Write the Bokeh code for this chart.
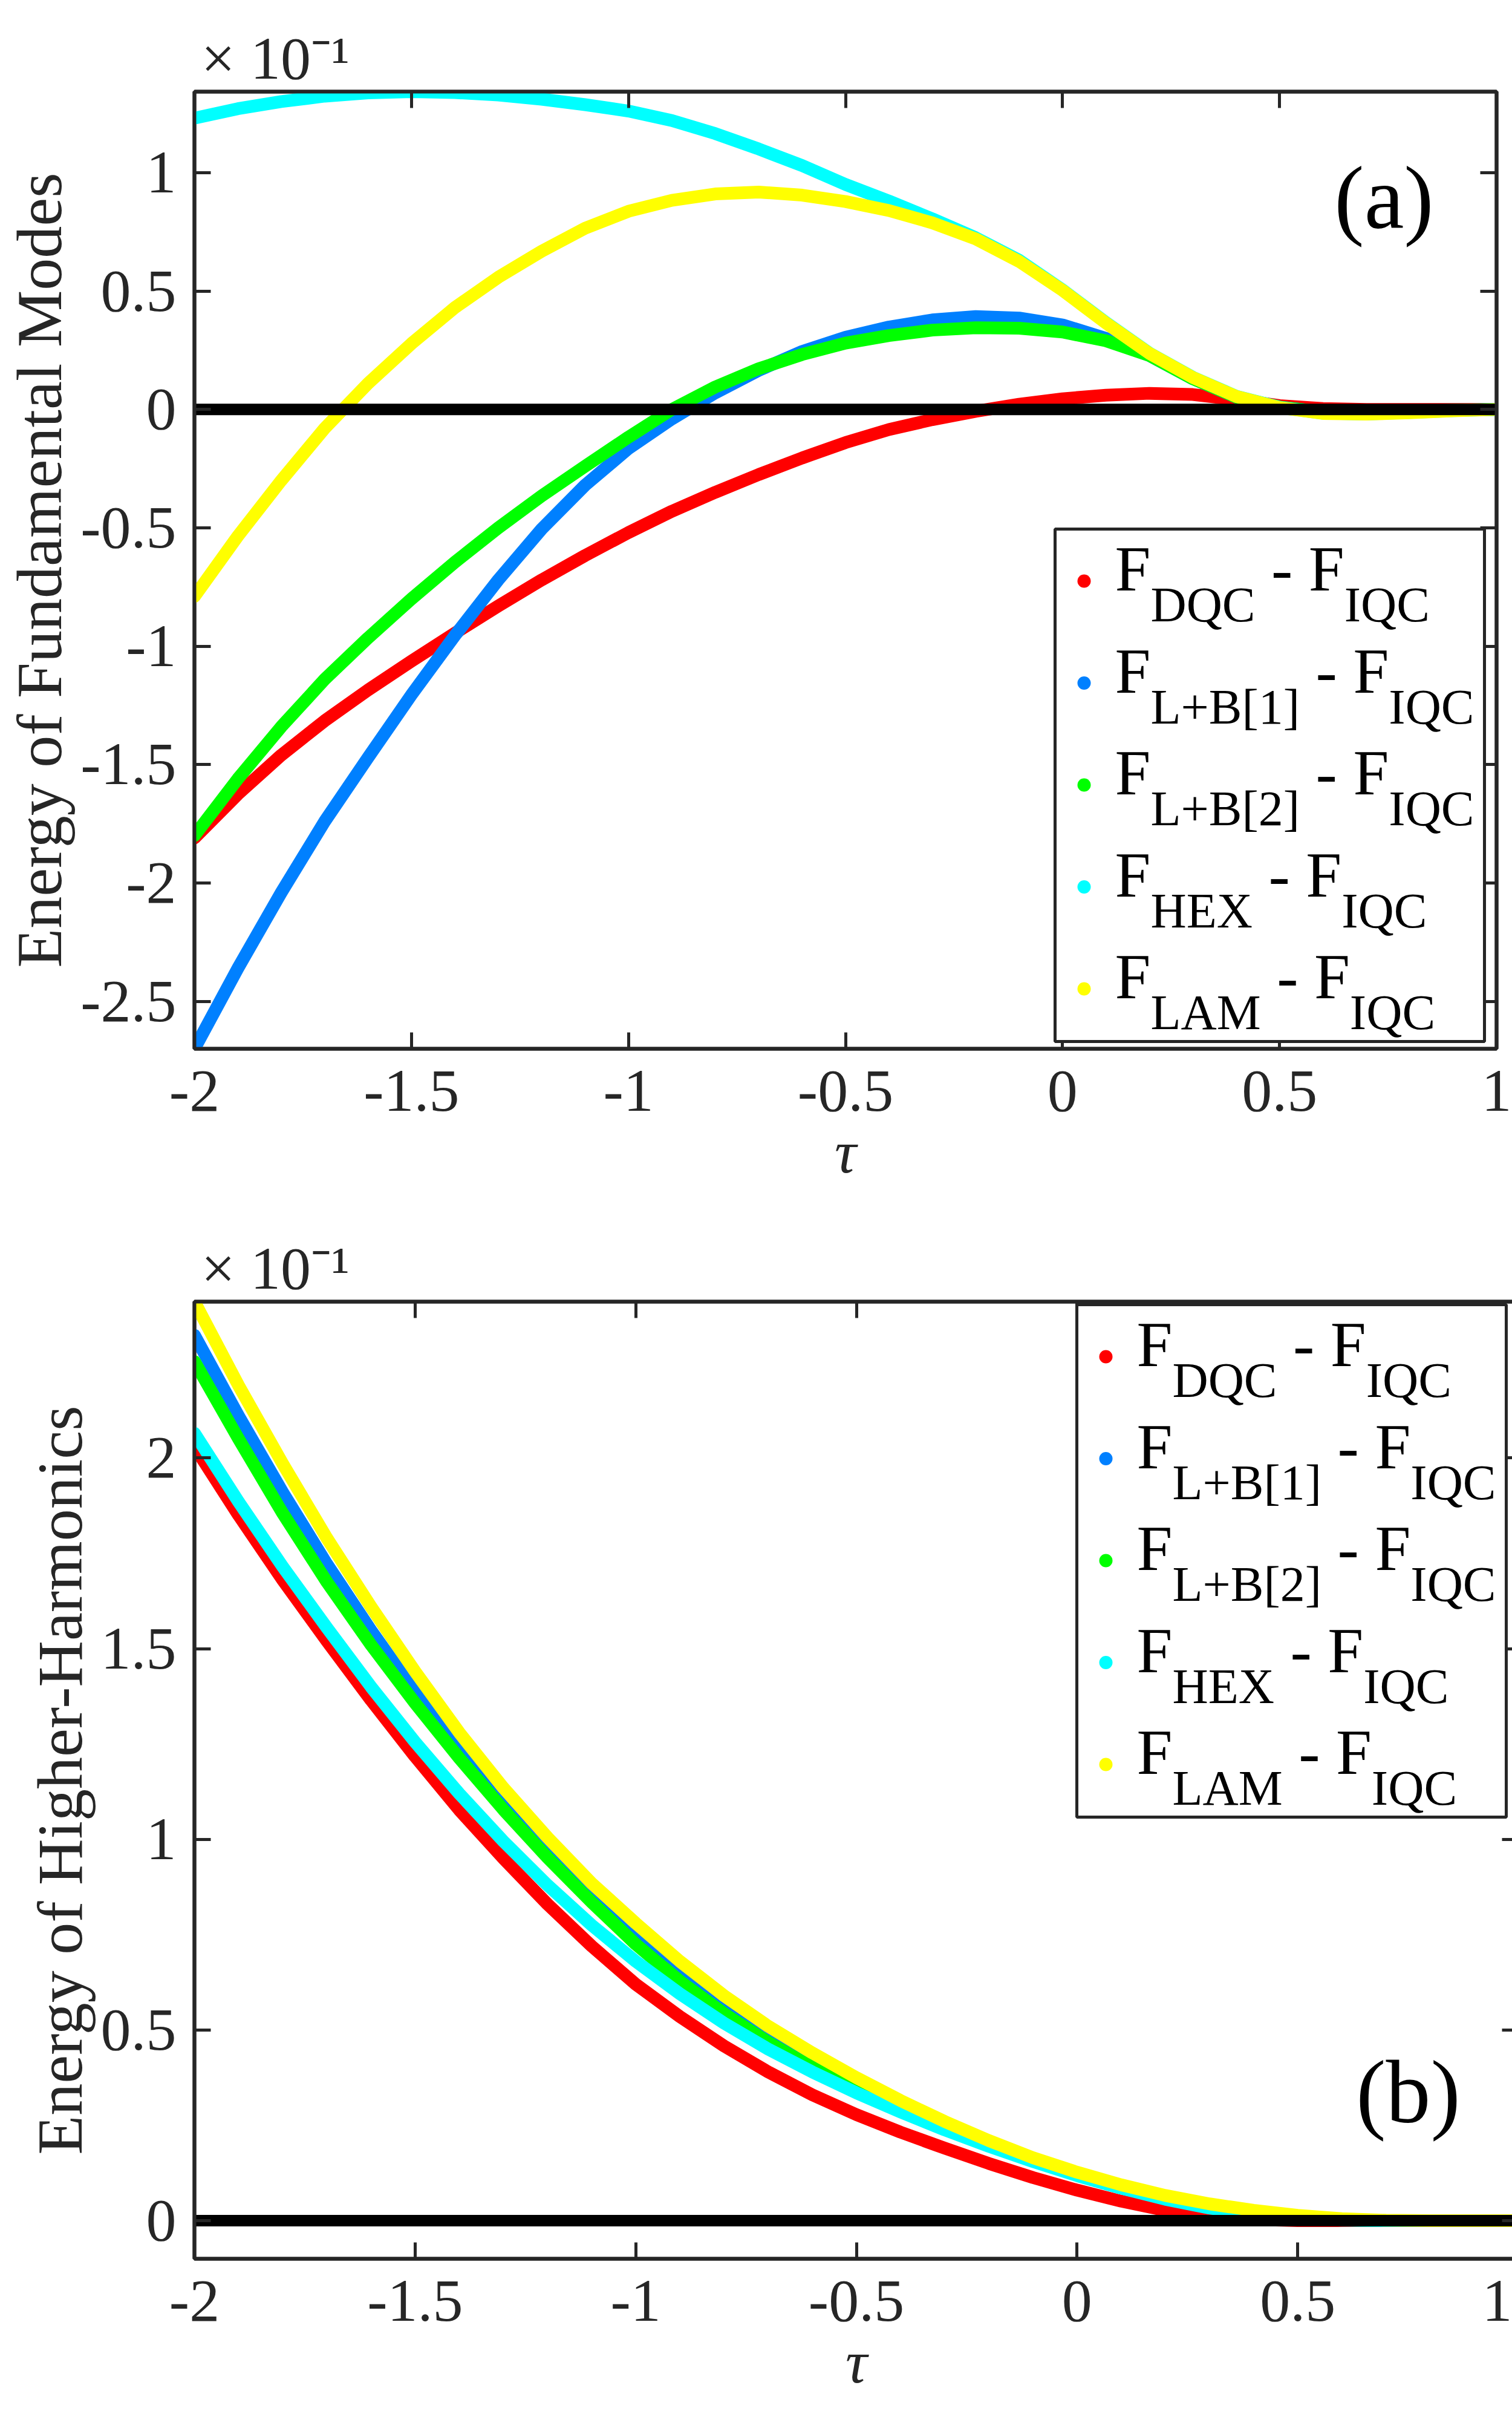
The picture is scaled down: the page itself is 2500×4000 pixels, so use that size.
from bokeh.plotting import figure
from bokeh.layouts import column
from bokeh.models import (Range1d, LinearAxis, FixedTicker, Label, BoxAnnotation,
                          CustomJSTickFormatter, Title)
from bokeh.embed import file_html
from bokeh.resources import INLINE

# ---------------------------------------------------------------- data
tau = [-2.0, -1.9, -1.8, -1.7, -1.6, -1.5, -1.4, -1.3, -1.2, -1.1, -1.0,
       -0.9, -0.8, -0.7, -0.6, -0.5, -0.4, -0.3, -0.2, -0.1, 0.0,
       0.1, 0.2, 0.3, 0.4, 0.5, 0.6, 0.7, 0.8, 0.9, 1.0]

# energy of fundamental modes, F_X - F_IQC (units of 1e-1)
fund_dqc = [-1.81, -1.625, -1.46, -1.315, -1.185, -1.063, -0.945, -0.83, -0.72, -0.617, -0.52,
            -0.43, -0.35, -0.275, -0.205, -0.14, -0.085, -0.043, -0.008, 0.022, 0.045,
            0.06, 0.068, 0.063, 0.042, 0.016, 0.004, 0.0, 0.0, 0.0, 0.0]
fund_lb1 = [-2.70, -2.36, -2.04, -1.74, -1.47, -1.205, -0.955, -0.72, -0.505, -0.32, -0.165,
            -0.04, 0.07, 0.165, 0.245, 0.305, 0.348, 0.378, 0.392, 0.386, 0.357,
            0.30, 0.228, 0.13, 0.052, 0.01, -0.01, -0.012, -0.008, -0.003, 0.0]
fund_lb2 = [-1.80, -1.56, -1.34, -1.14, -0.965, -0.80, -0.645, -0.50, -0.365, -0.24, -0.117,
            0.0, 0.095, 0.172, 0.232, 0.28, 0.312, 0.335, 0.345, 0.343, 0.327,
            0.29, 0.228, 0.13, 0.052, 0.01, -0.01, -0.012, -0.008, -0.003, 0.0]
fund_hex = [1.23, 1.27, 1.30, 1.323, 1.337, 1.342, 1.338, 1.328, 1.31, 1.287, 1.26,
            1.22, 1.165, 1.10, 1.03, 0.95, 0.88, 0.805, 0.725, 0.63, 0.505,
            0.367, 0.238, 0.136, 0.056, 0.009, -0.016, -0.019, -0.013, -0.005, 0.0]
fund_lam = [-0.79, -0.535, -0.30, -0.08, 0.11, 0.278, 0.43, 0.558, 0.668, 0.765, 0.837,
            0.883, 0.91, 0.918, 0.905, 0.878, 0.84, 0.788, 0.72, 0.625, 0.503,
            0.365, 0.237, 0.135, 0.055, 0.008, -0.017, -0.02, -0.014, -0.006, 0.0]

# energy of higher harmonics, F_X - F_IQC (units of 1e-1)
harm_dqc = [2.03, 1.85, 1.68, 1.52, 1.365, 1.217, 1.077, 0.95, 0.83, 0.72, 0.62,
            0.535, 0.458, 0.39, 0.33, 0.278, 0.232, 0.19, 0.15, 0.113, 0.08,
            0.051, 0.027, 0.011, 0.003, 0.0, 0.0, 0.0, 0.0, 0.0, 0.0]
harm_lb1 = [2.322, 2.11, 1.91, 1.722, 1.548, 1.385, 1.233, 1.093, 0.963, 0.843, 0.742,
            0.645, 0.556, 0.478, 0.409, 0.348, 0.293, 0.243, 0.198, 0.158, 0.121,
            0.088, 0.059, 0.036, 0.019, 0.008, 0.002, 0.0, 0.0, 0.0, 0.0]
harm_lb2 = [2.253, 2.05, 1.855, 1.675, 1.51, 1.357, 1.213, 1.078, 0.952, 0.835, 0.725,
            0.628, 0.543, 0.468, 0.402, 0.343, 0.29, 0.241, 0.197, 0.157, 0.12,
            0.087, 0.058, 0.035, 0.018, 0.007, 0.002, 0.0, 0.0, 0.0, 0.0]
harm_hex = [2.065, 1.885, 1.715, 1.555, 1.40, 1.255, 1.12, 0.995, 0.88, 0.775, 0.68,
            0.595, 0.518, 0.45, 0.39, 0.335, 0.285, 0.238, 0.195, 0.155, 0.118,
            0.085, 0.056, 0.033, 0.016, 0.006, 0.001, 0.0, 0.0, 0.0, 0.0]
harm_lam = [2.41, 2.19, 1.985, 1.79, 1.61, 1.44, 1.28, 1.135, 1.005, 0.885, 0.78,
            0.68, 0.59, 0.51, 0.44, 0.375, 0.315, 0.26, 0.21, 0.165, 0.127,
            0.094, 0.066, 0.044, 0.027, 0.014, 0.005, 0.001, 0.0, 0.0, 0.0]

# reference phase against itself
iqc_tau = [-2.0, 1.0]
iqc_zero = [0.0, 0.0]

phases = ["DQC", "L+B[1]", "L+B[2]", "HEX", "LAM"]
colors = ["#ff0000", "#0080ff", "#00ff00", "#00ffff", "#ffff00"]

x_ticks = [-2, -1.5, -1, -0.5, 0, 0.5, 1]
fund_y_ticks = [-2.5, -2, -1.5, -1, -0.5, 0, 0.5, 1]
harm_y_ticks = [0, 0.5, 1, 1.5, 2]
multiplier = "× 10⁻¹"

# ---------------------------------------------------------------- style
SERIF = "Liberation Serif"
AX = "#262626"
W, H = 2500, 2000
FRAME_RIGHT = 2474
FRAME_TOP, FRAME_H = 151, 1582
# distance from the alphabetic baseline up to the centre of the font box (em)
MID = (0.891 - 0.216) / 2

# Times advance widths (em) for the legend pieces
ADV = {"F": .556, "D": .722, "Q": .722, "C": .667, "L": .611, "+": .564,
       "B": .667, "[": .333, "]": .333, "1": .5, "2": .5, "H": .722,
       "E": .611, "X": .722, "A": .722, "M": .889, "I": .333, " ": .25,
       "-": .333}


def text_w(s, size):
    return sum(ADV[ch] for ch in s) * size


def style_axis(ax, ticks, labelled):
    ax.ticker = FixedTicker(ticks=ticks)
    ax.axis_line_color = AX
    ax.axis_line_width = 6
    ax.major_tick_in = 27
    ax.major_tick_out = 0
    ax.major_tick_line_color = AX
    ax.major_tick_line_width = 5
    ax.minor_tick_line_color = None
    if labelled:
        ax.formatter = CustomJSTickFormatter(code="return String(tick);")
        ax.major_label_text_font = SERIF
        ax.major_label_text_font_size = "100px"
        ax.major_label_text_color = AX
    else:
        ax.formatter = CustomJSTickFormatter(code="return '';")
        ax.major_label_text_font_size = "0px"
        ax.major_label_standoff = 0


def make_panel(curves, y_lo, y_hi, y_ticks, y_title, tag, fl, tag_x, tag_base, leg_top):
    fw = FRAME_RIGHT - fl
    p = figure(width=W, height=H, frame_width=fw, frame_height=FRAME_H,
               x_range=Range1d(-2, 1), y_range=Range1d(y_lo, y_hi),
               output_backend="svg", toolbar_location=None, title_location=None,
               min_border_left=fl, min_border_right=W - FRAME_RIGHT,
               min_border_top=FRAME_TOP, min_border_bottom=H - FRAME_TOP - FRAME_H,
               background_fill_color="white", border_fill_color="white",
               outline_line_color=AX, outline_line_width=6)
    p.grid.visible = False

    def dx(px):
        return -2 + (px - fl) / fw * 3

    def dy(py):
        return y_hi - (py - FRAME_TOP) / FRAME_H * (y_hi - y_lo)

    def text(txt, px, base, size, color="black", align="left"):
        # place a label by its baseline (labels are anchored at their box centre)
        p.add_layout(Label(x=dx(px), y=dy(base - MID * size), text=txt,
                           text_font=SERIF, text_font_size=f"{size}px",
                           text_color=color, text_baseline="middle",
                           text_align=align))

    style_axis(p.xaxis[0], x_ticks, True)
    style_axis(p.yaxis[0], y_ticks, True)
    p.xaxis.major_label_standoff = 37
    p.xaxis.axis_label = "τ"
    p.xaxis.axis_label_text_font = SERIF
    p.xaxis.axis_label_text_font_style = "italic"
    p.xaxis.axis_label_text_font_size = "100px"
    p.xaxis.axis_label_text_color = AX
    p.xaxis.axis_label_standoff = 10
    p.yaxis.major_label_standoff = 30
    p.yaxis.axis_label = y_title
    p.yaxis.axis_label_text_font = SERIF
    p.yaxis.axis_label_text_font_style = "normal"
    p.yaxis.axis_label_text_font_size = "106px"
    p.yaxis.axis_label_text_color = AX
    p.yaxis.axis_label_standoff = 6

    top = LinearAxis()
    style_axis(top, x_ticks, False)
    p.add_layout(top, "above")
    right = LinearAxis()
    style_axis(right, y_ticks, False)
    p.add_layout(right, "right")

    # axis multiplier above the top-left corner
    p.add_layout(Title(text=multiplier, align="left", offset=11, standoff=0,
                       vertical_align="bottom", text_font=SERIF,
                       text_font_size="100px", text_font_style="normal",
                       text_color=AX), "above")

    for vals, c in zip(curves, colors):
        p.line(tau, vals, line_color=c, line_width=21,
               line_cap="round", line_join="round")
    p.line(iqc_tau, iqc_zero, line_color="black", line_width=19, line_cap="round")

    # panel tag
    text(tag, tag_x, tag_base, 148, "black", "center")

    # legend with subscripted entries
    p.add_layout(BoxAnnotation(left=dx(1744), right=dx(2454),
                               top=dy(leg_top), bottom=dy(leg_top + 847),
                               fill_color="white", fill_alpha=1.0,
                               line_color=AX, line_alpha=1.0, line_width=5))
    big, small = 106, 82
    for i, (name, c) in enumerate(zip(phases, colors)):
        row = leg_top + i * 168.5
        p.scatter([dx(1792)], [dy(row + 86)], size=22, marker="circle",
                  fill_color=c, line_color=None, level="overlay")
        base = row + 102
        x0 = 1843
        x1 = x0 + text_w("F", big)
        x2 = x1 + text_w(name, small) + text_w(" ", big)
        x3 = x2 + text_w("- F", big)
        text("F", x0, base, big)
        text(name, x1, base + 51, small)
        text("- F", x2, base, big)
        text("IQC", x3, base + 51, small)
    return p


fund = [fund_dqc, fund_lb1, fund_lb2, fund_hex, fund_lam]
harm = [harm_dqc, harm_lb1, harm_lb2, harm_hex, harm_lam]

fund_lo = min(min(s) for s in fund)
fund_hi = max(max(s) for s in fund)
harm_hi = max(max(s) for s in harm)

pa = make_panel(fund, fund_lo, fund_hi, fund_y_ticks, "Energy of Fundamental Modes",
                "(a)", 321, 2288, 376, 874)
pb = make_panel(harm, -0.1, harm_hi, harm_y_ticks, "Energy of Higher-Harmonics",
                "(b)", 285, 2292, 1507, 156)

layout = column(pa, pb)
open("out.html", "w").write(file_html(layout, INLINE))
